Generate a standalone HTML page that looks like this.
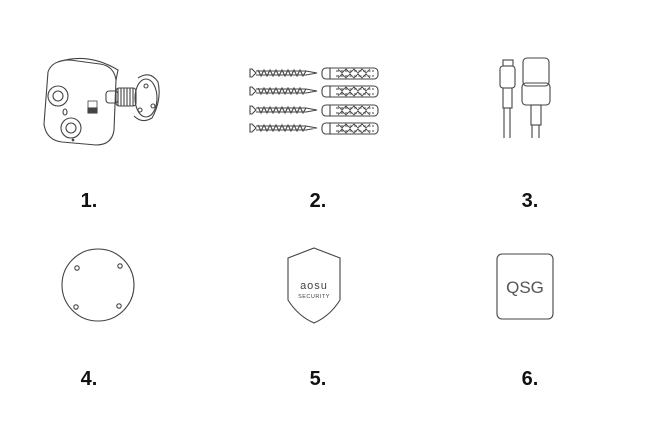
<!DOCTYPE html>
<html><head><style>
body{margin:0;background:#fff;}
svg{display:block;}
text{font-family:"Liberation Sans",sans-serif;}
</style></head><body>
<svg width="655" height="445" viewBox="0 0 655 445" xmlns="http://www.w3.org/2000/svg">
<g fill="none" stroke="#444" stroke-width="1.1">
<!-- camera mount -->
<path d="M138 78 Q150 70 158 82 Q162 100 152 118 Q142 124 134 116"/>
<ellipse cx="146" cy="98" rx="11" ry="19"/>
<circle cx="146" cy="86" r="2"/><circle cx="153" cy="106" r="2"/><circle cx="140" cy="110" r="2"/>
<rect x="116" y="88" width="20" height="18" rx="3"/>
<path d="M118 88 V106 M121 88 V106 M124 88 V106 M127 88 V106 M130 88 V106 M133 88 V106"/>
<rect x="106" y="91" width="12" height="12" rx="3"/>
<!-- camera body -->
<path d="M48 72 Q52 60 70 60 L100 64 Q114 66 116 80 L114 130 Q112 145 96 145 L62 142 Q46 140 44 124 Z"/>
<path d="M58 62 Q88 52 118 70 L116 80"/>
<circle cx="58" cy="96" r="10"/><circle cx="58" cy="96" r="5"/>
<circle cx="71" cy="128" r="10"/><circle cx="71" cy="128" r="5"/>
<ellipse cx="65" cy="112" rx="2" ry="3"/>
<circle cx="73" cy="140" r="0.8" fill="#444"/>
<rect x="88" y="101" width="9" height="12" stroke-width="0.8"/>
<rect x="88" y="108" width="9" height="5" fill="#444"/>
<!-- screws -->
<g id="row">
<path d="M250 69 L252 69 L256 73 L256 73 L252 77 L250 77 Z"/>
<path d="M256 71 L306 71 L317 73 L306 75 L256 75"/>
<polyline points="258,70 261,76 264,70 267,76 270,70 273,76 276,70 279,76 282,70 285,76 288,70 291,76 294,70 297,76 300,70 303,76 306,71"/>
<rect x="322" y="68" width="56" height="11" rx="4"/>
<path d="M330 68 V79"/>
<path d="M336 71 H374 M336 76 H374" stroke-dasharray="3 1.5"/>
<polyline points="338,69 342,73 346,69 350,73 354,69 358,73 362,69 366,73 370,69" stroke-width="0.8"/>
<polyline points="338,78 342,74 346,78 350,74 354,78 358,74 362,78 366,74 370,78" stroke-width="0.8"/>
</g>
<use href="#row" y="18"/><use href="#row" y="37"/><use href="#row" y="55"/>
<!-- cable -->
<rect x="503" y="60" width="10" height="6"/>
<rect x="500" y="66" width="15" height="22" rx="3"/>
<rect x="503" y="88" width="9" height="20"/>
<path d="M504 108 V138 M510 108 V138"/>
<rect x="523" y="58" width="26" height="28" rx="4"/>
<rect x="522" y="83" width="28" height="22" rx="4"/>
<rect x="531" y="105" width="10" height="20"/>
<path d="M532 125 V138 M539 125 V138"/>
<!-- disc -->
<circle cx="98" cy="285" r="36"/>
<circle cx="77" cy="268" r="2.2"/><circle cx="120" cy="266" r="2.2"/>
<circle cx="76" cy="307" r="2.2"/><circle cx="119" cy="306" r="2.2"/>
<!-- shield -->
<path d="M314 248 L340 258 L340 300 Q330 316 314 323 Q298 316 288 300 L288 258 Z"/>
<!-- QSG -->
<rect x="497" y="254" width="56" height="65" rx="5"/>
</g>
<text x="314" y="289" font-size="11" text-anchor="middle" fill="#444" letter-spacing="1">aosu</text>
<text x="314" y="298" font-size="5.5" text-anchor="middle" fill="#444" letter-spacing="0.5">SECURITY</text>
<text x="525" y="293" font-size="17" text-anchor="middle" fill="#555">QSG</text>
<g font-size="20" font-weight="bold" fill="#111" text-anchor="middle">
<text x="89" y="207">1.</text><text x="318" y="207">2.</text><text x="530" y="207">3.</text>
<text x="89" y="385">4.</text><text x="318" y="385">5.</text><text x="530" y="385">6.</text>
</g>
</svg>
</body></html>
